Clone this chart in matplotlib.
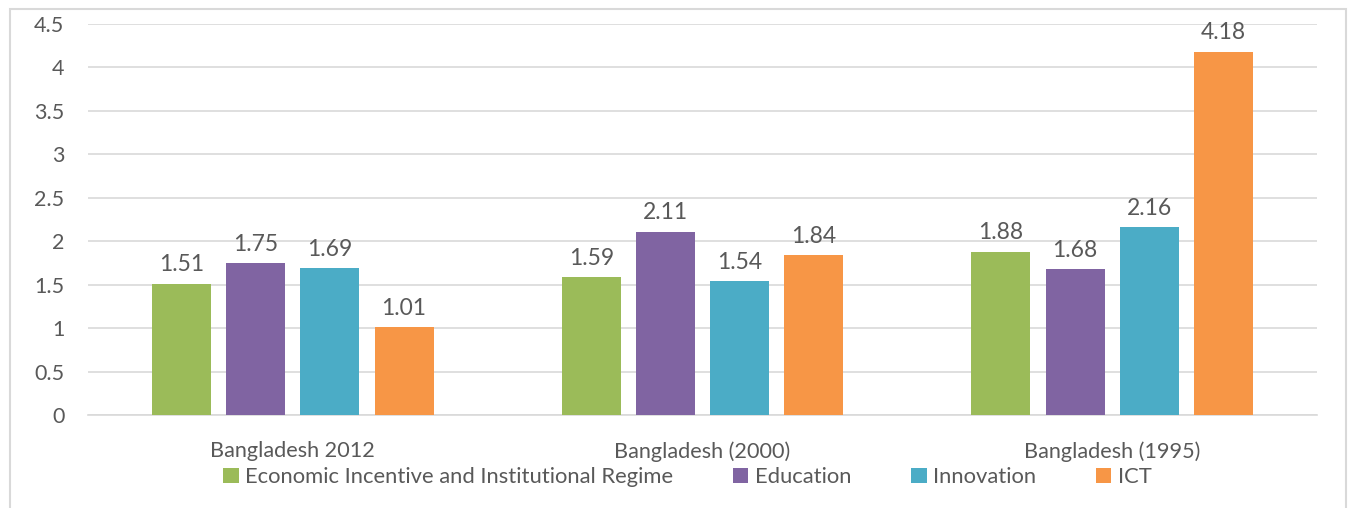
import matplotlib
matplotlib.use("Agg")
import matplotlib.pyplot as plt
from matplotlib.patches import Rectangle
import numpy as np

categories = ["Bangladesh 2012", "Bangladesh (2000)", "Bangladesh (1995)"]
series_names = ["Economic Incentive and Institutional Regime", "Education", "Innovation", "ICT"]
econ = [1.51, 1.59, 1.88]
education = [1.75, 2.11, 1.68]
innovation = [1.69, 1.54, 2.16]
ict = [1.01, 1.84, 4.18]
colors = ["#9BBB59", "#8064A2", "#4BACC6", "#F79646"]
yticks = [0, 0.5, 1, 1.5, 2, 2.5, 3, 3.5, 4, 4.5]
ytick_labels = ["0", "0.5", "1", "1.5", "2", "2.5", "3", "3.5", "4", "4.5"]

plt.rcParams['font.family'] = ['Lato', 'DejaVu Sans']
txt = "#595959"
W, H = 1351, 508
fig = plt.figure(figsize=(W / 100, H / 100), dpi=100)
ax = fig.add_axes([88 / W, 1 - 415 / H, (1317 - 88) / W, (415 - 24) / H])

x = np.arange(len(categories))
pitch = 0.181
width = 0.144
all_series = [econ, education, innovation, ict]
handles = []
for i, (vals, name, c) in enumerate(zip(all_series, series_names, colors)):
    pos = x + (i - 1.5) * pitch
    b = ax.bar(pos, vals, width, color=c, label=name, zorder=3)
    handles.append(b)
    for xp, v in zip(pos, vals):
        ax.annotate(f"{v:.2f}", (xp, v), xytext=(0, 6), textcoords="offset points",
                    ha="center", va="bottom", fontsize=16.5, color=txt)

ax.set_xlim(-0.5, 2.5)
ax.set_ylim(0, 4.5)
ax.set_yticks(yticks)
ax.set_yticklabels(ytick_labels, fontsize=15.5, color=txt)
ax.set_xticks(x)
ax.set_xticklabels(categories, fontsize=15.6, color=txt)
ax.tick_params(axis="y", length=0, pad=17)
ax.tick_params(axis="x", length=0, pad=19)
ax.grid(axis="y", color="#D9D9D9", linewidth=1.2, zorder=0)
for s in ["top", "right", "left"]:
    ax.spines[s].set_visible(False)
ax.spines["bottom"].set_color("#D9D9D9")
ax.spines["bottom"].set_linewidth(1.2)

leg = fig.legend(handles=handles, labels=series_names, loc="center",
                 bbox_to_anchor=(687.5 / W, 1 - 477 / H), ncol=4, frameon=False,
                 fontsize=15.8, handlelength=0.7, handleheight=0.7,
                 handletextpad=0.3, columnspacing=2.72, labelcolor=txt)

fig.patches.append(Rectangle((9.5 / W, -0.05), (1346 - 9.5) / W, 1.05 - 9.5 / H,
                             transform=fig.transFigure, fill=False,
                             edgecolor="#D9D9D9", linewidth=1.5))

fig.savefig("out.png", dpi=100)
